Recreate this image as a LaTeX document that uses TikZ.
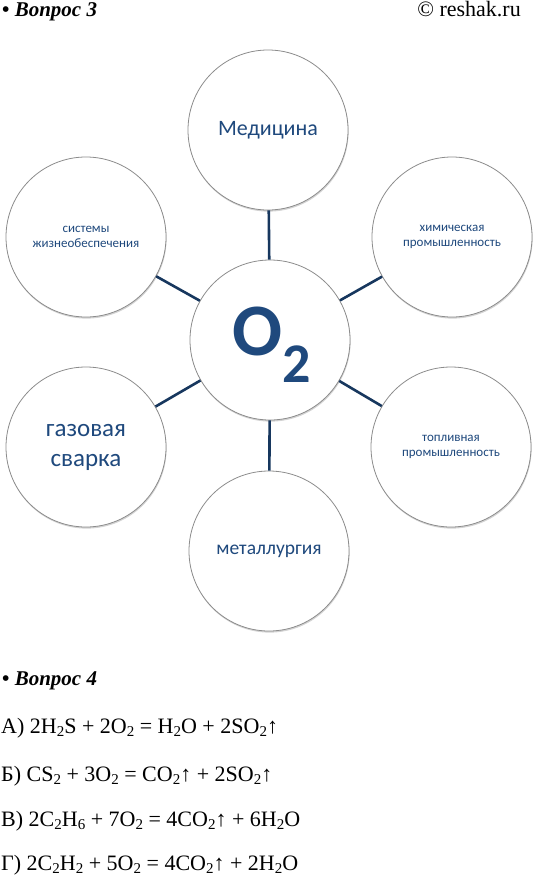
\documentclass[tikz,border=0pt]{standalone}
\usepackage{fontspec}
\setmainfont{Liberation Serif}
\newfontfamily\calibri{Carlito}
\usetikzlibrary{shadows}
\definecolor{textblue}{RGB}{31,73,125}
\definecolor{linkblue}{RGB}{23,55,94}
\definecolor{rimgray}{RGB}{140,140,140}
\newcommand{\ix}[1]{\raisebox{-3.5pt}{\fontsize{15}{15}\selectfont #1}}
\newcommand{\fs}[1]{\fontsize{#1}{1.2\dimexpr#1pt\relax}\selectfont}

\begin{document}
\begin{tikzpicture}[x=1pt,y=1pt,
	bubble/.style={circle, draw=rimgray, line width=0.8pt, fill=white, minimum size=160pt, inner sep=0pt,
		drop shadow={opacity=0.35, shadow xshift=0.6pt, shadow yshift=-1.6pt},
		align=center, text=textblue, font=\calibri},
	link/.style={draw=linkblue, line width=2.6pt},
	eq/.style={anchor=base west, inner sep=0pt, font=\fs{22}}]
	\useasboundingbox (0,0) rectangle (536,-876);
	% headers
	\node[anchor=base west, inner sep=0pt, font=\fs{21}] (q3) at (2,-16) {\textbf{• \textit{Вопрос 3}}};
	\node[anchor=base east, inner sep=0pt, font=\fs{22}] (copy) at (521,-16) {© reshak.ru};
	% bubbles
	\node[bubble] (o2) at (270,-340) {};
	\node[inner sep=0pt, text=textblue, font=\calibri\bfseries] (o2lbl) at (272,-345)
		{\fs{74}O\raisebox{-27pt}{\fs{56}2}};
	\node[bubble, font=\calibri\fs{22}] (med) at (268,-130) {Медицина};
	\node[bubble, font=\calibri\fs{13}] (life) at (86,-237) {системы\\жизнеобеспечения};
	\node[bubble, font=\calibri\fs{13}] (chem) at (452,-237) {химическая\\промышленность};
	\node[bubble, font=\calibri\fs{25}] (weld) at (86,-447) {газовая\\сварка};
	\node[bubble, font=\calibri\fs{13}] (fuel) at (451,-447) {топливная\\промышленность};
	\node[bubble, font=\calibri\fs{19.5}] (metal) at (269,-551) {металлургия};
	% spokes
	\draw[link] (o2) -- (med);
	\draw[link] (o2) -- (life);
	\draw[link] (o2) -- (chem);
	\draw[link] (o2) -- (weld);
	\draw[link] (o2) -- (fuel);
	\draw[link] (o2) -- (metal);
	% question 4
	\node[anchor=base west, inner sep=0pt, font=\fs{21}] (q4) at (2,-685) {\textbf{• \textit{Вопрос 4}}};
	\node[eq] (eqa) at (1,-733) {А) 2H\ix{2}S + 2O\ix{2} = H\ix{2}O + 2SO\ix{2}↑};
	\node[eq] (eqb) at (1,-781) {Б) CS\ix{2} + 3O\ix{2} = CO\ix{2}↑ + 2SO\ix{2}↑};
	\node[eq] (eqc) at (1,-826) {В) 2C\ix{2}H\ix{6} + 7O\ix{2} = 4CO\ix{2}↑ + 6H\ix{2}O};
	\node[eq] (eqd) at (1,-870) {Г) 2C\ix{2}H\ix{2} + 5O\ix{2} = 4CO\ix{2}↑ + 2H\ix{2}O};
\end{tikzpicture}
\end{document}
